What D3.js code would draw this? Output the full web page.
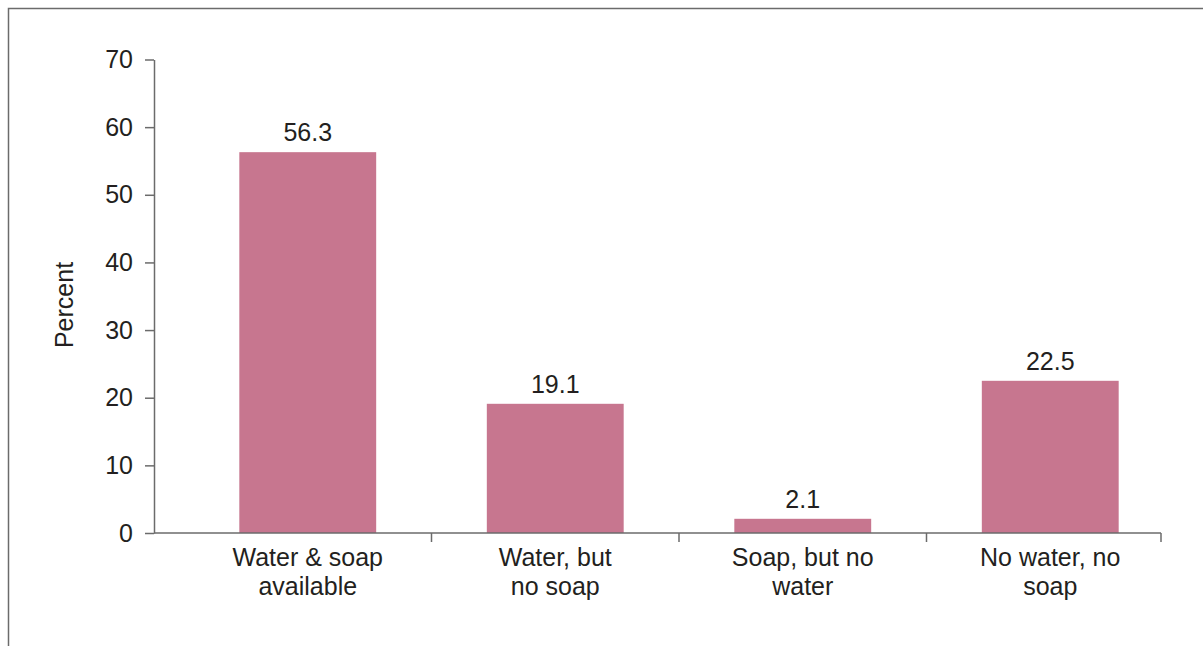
<!DOCTYPE html>
<html>
<head>
<meta charset="utf-8">
<script src="https://cdn.jsdelivr.net/npm/d3@7"></script>
<style>
  html, body { margin: 0; padding: 0; background: #fff; }
  svg { display: block; }
  text { font-family: "Liberation Sans", Arial, sans-serif; fill: #231f20; }
</style>
</head>
<body>
<svg id="chart" width="1203" height="646"></svg>
<script>
// Handwashing facility availability (percent of households)
const categories = [
  ["Water & soap", "available"],
  ["Water, but", "no soap"],
  ["Soap, but no", "water"],
  ["No water, no", "soap"]
];
const values = [56.3, 19.1, 2.1, 22.5];
const yTicks = [0, 10, 20, 30, 40, 50, 60, 70];
const yTitle = "Percent";

const svg = d3.select("#chart");
const axisColor = "#6b6b6b";
const barColor = "#c7768f";
const fontSize = 25;

// Outer frame (open to the right and bottom)
svg.append("path")
  .attr("d", "M8.5,646 V8.5 H1203")
  .attr("fill", "none")
  .attr("stroke", axisColor)
  .attr("stroke-width", 1.5);

const axisLeft = 154, axisRight = 1161;
const y = d3.scaleLinear().domain([0, 70]).range([533, 59.5]);
const x = d3.scaleBand()
  .domain(d3.range(categories.length))
  .range([184, 1174])
  .paddingInner(0.447)
  .paddingOuter(0.2235);

// Bars
svg.append("g").selectAll("rect")
  .data(values)
  .join("rect")
  .attr("x", (d, i) => x(i))
  .attr("width", x.bandwidth())
  .attr("y", d => y(d))
  .attr("height", d => y(0) - y(d))
  .attr("fill", barColor);

// Value labels
svg.append("g").selectAll("text")
  .data(values)
  .join("text")
  .attr("x", (d, i) => x(i) + x.bandwidth() / 2)
  .attr("y", d => y(d) - 11)
  .attr("text-anchor", "middle")
  .attr("font-size", fontSize)
  .text(d => d.toFixed(1));

// Y axis
const yAxis = svg.append("g")
  .attr("transform", `translate(${axisLeft},0)`)
  .call(d3.axisLeft(y).tickValues(yTicks).tickSize(9).tickSizeOuter(0).tickPadding(12));
yAxis.select(".domain").attr("stroke", axisColor).attr("stroke-width", 1.5);
yAxis.selectAll(".tick line").attr("stroke", axisColor).attr("stroke-width", 1.5);
yAxis.selectAll(".tick text")
  .attr("font-size", fontSize)
  .attr("font-family", "Liberation Sans, Arial, sans-serif")
  .attr("fill", "#231f20");

// X axis: baseline with ticks between categories
const step = x.step();
const xTickPos = d3.range(1, categories.length).map(i => x(i) - x.paddingInner() * step / 2).concat([axisRight]);
const xAxis = svg.append("g");
xAxis.append("line")
  .attr("x1", axisLeft).attr("x2", axisRight)
  .attr("y1", y(0)).attr("y2", y(0))
  .attr("stroke", axisColor).attr("stroke-width", 1.5);
xAxis.selectAll("line.tick")
  .data(xTickPos)
  .join("line")
  .attr("class", "tick")
  .attr("x1", d => d).attr("x2", d => d)
  .attr("y1", y(0)).attr("y2", y(0) + 9)
  .attr("stroke", axisColor).attr("stroke-width", 1.5);

// Category labels (two lines each)
const catLabels = svg.append("g").selectAll("text")
  .data(categories)
  .join("text")
  .attr("x", (d, i) => x(i) + x.bandwidth() / 2)
  .attr("y", 566)
  .attr("text-anchor", "middle")
  .attr("font-size", fontSize);
catLabels.selectAll("tspan")
  .data(d => d)
  .join("tspan")
  .attr("x", function () { return this.parentNode.getAttribute("x"); })
  .attr("dy", (d, i) => i === 0 ? 0 : 28.5)
  .text(d => d);

// Y axis title
svg.append("text")
  .attr("transform", `translate(73,305) rotate(-90)`)
  .attr("text-anchor", "middle")
  .attr("font-size", fontSize)
  .text(yTitle);
</script>
</body>
</html>
